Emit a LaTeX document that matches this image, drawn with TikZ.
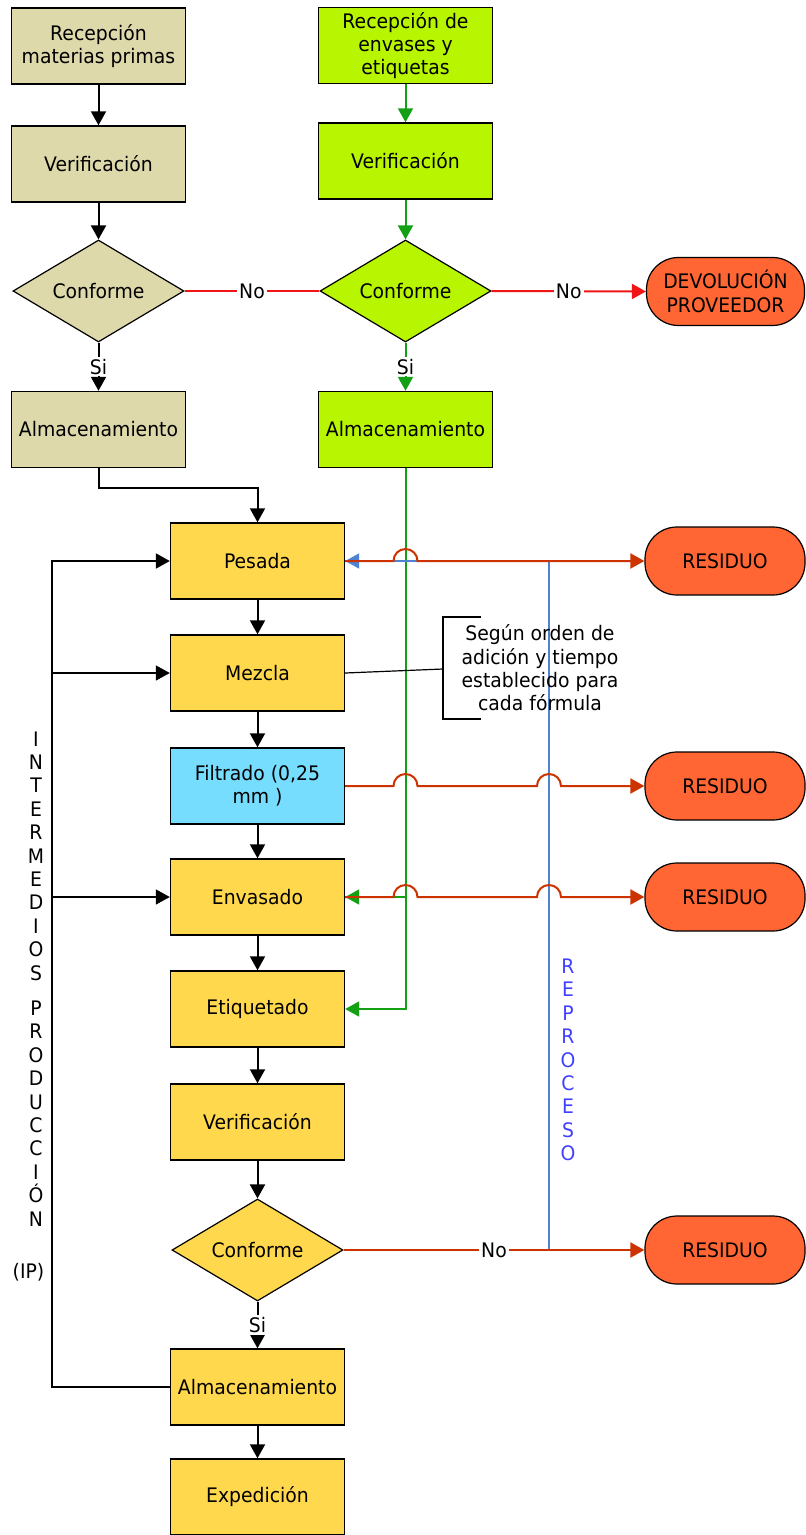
\documentclass[tikz,border=0pt]{standalone}
\usepackage{fontspec}
\setmainfont{DejaVu Sans}[FakeStretch=0.94]
\usetikzlibrary{shapes.geometric,arrows.meta,calc}
\definecolor{tan}{RGB}{221,217,170}
\definecolor{lime}{RGB}{184,245,0}
\definecolor{yel}{RGB}{255,216,77}
\definecolor{cyanbox}{RGB}{119,221,255}
\definecolor{orng}{RGB}{255,102,51}
\definecolor{grn}{RGB}{20,160,20}
\definecolor{brightred}{RGB}{240,20,20}
\definecolor{darkred}{RGB}{204,51,0}
\definecolor{blueline}{RGB}{80,130,210}
\definecolor{bluetext}{RGB}{64,64,255}
\begin{document}
\begin{tikzpicture}[x=0.5pt,y=-0.5pt,
  font=\fontsize{10}{11.7}\selectfont,
  box/.style={draw=black, line width=0.7pt, minimum width=87pt, minimum height=38pt, inner sep=1pt, align=center},
  dia/.style={diamond, draw=black, line width=0.6pt, minimum width=85.5pt, minimum height=51pt, inner sep=0pt, aspect=1.7},
  term/.style={draw=black, line width=0.6pt, fill=orng, rounded corners=16pt, minimum width=80pt, minimum height=34pt, inner sep=1pt, align=center},
  arr/.style={-{Triangle[length=7pt,width=7.5pt]}},
  conn/.style={line width=1pt},
  lbl/.style={fill=white, inner sep=1pt}
]
\useasboundingbox (0,0) rectangle (806,1535);

% left column
\node[box, fill=tan] (rmp) at (98.5,46) {Recepción\\materias primas};
\node[box, fill=tan] (ver1) at (98.5,164) {Verificación};
\node[dia, fill=tan] (conf1) at (98.5,291) {Conforme};
\node[box, fill=tan] (alm1) at (98.5,429.5) {Almacenamiento};

% middle column
\node[box, fill=lime] (rev) at (405.5,45.5) {Recepción de\\envases y\\etiquetas};
\node[box, fill=lime] (ver2) at (405.5,161) {Verificación};
\node[dia, fill=lime] (conf2) at (405.5,291) {Conforme};
\node[box, fill=lime] (alm2) at (405.5,429.5) {Almacenamiento};
\node[term, minimum width=79pt] (dev) at (725.5,291.5) {DEVOLUCIÓN\\PROVEEDOR};

% main column
\node[box, fill=yel] (pes) at (257.5,561) {Pesada};
\node[box, fill=yel] (mez) at (257.5,673) {Mezcla};
\node[box, fill=cyanbox] (fil) at (257.5,786) {Filtrado (0,25\\mm )};
\node[box, fill=yel] (env) at (257.5,897) {Envasado};
\node[box, fill=yel] (eti) at (257.5,1009) {Etiquetado};
\node[box, fill=yel] (ver3) at (257.5,1122) {Verificación};
\node[dia, fill=yel] (conf3) at (257.5,1250) {Conforme};
\node[box, fill=yel] (alm3) at (257.5,1387) {Almacenamiento};
\node[box, fill=yel] (exp) at (257.5,1497) {Expedición};

% residue terminals
\node[term] (r1) at (725,561) {RESIDUO};
\node[term] (r2) at (725,786) {RESIDUO};
\node[term] (r3) at (725,897) {RESIDUO};
\node[term] (r4) at (725,1250) {RESIDUO};

% guide coordinates
\coordinate (gx) at (405.5,0);
\coordinate (bx) at (549,0);
\coordinate (ipx) at (52,0);

% left column connectors
\draw[conn, arr] (rmp) -- (ver1);
\draw[conn, arr] (ver1) -- (conf1);
\draw[conn, arr] (conf1.south) -- node[lbl] {Si} (alm1.north);
\draw[conn, arr] (alm1.south) -- ++(0,20) -| (pes.north);

% middle column connectors
\draw[conn, grn, arr] (rev) -- (ver2);
\draw[conn, grn, arr] (ver2) -- (conf2);
\draw[conn, grn, arr] (conf2.south) -- node[lbl, text=black] {Si} (alm2.north);
\draw[conn, brightred] (conf1.east) -- node[lbl, text=black] {No} (conf2.west);
\draw[conn, brightred, arr] (conf2.east) -- node[lbl, text=black] {No} (dev.west);

% green supply line
\draw[conn, grn, arr] (alm2.south) -- (eti.east -| gx) -- (eti.east);
\draw[conn, grn, arr] (env.east -| gx) -- (env.east);

% main column connectors
\draw[conn, arr] (pes) -- (mez);
\draw[conn, arr] (mez) -- (fil);
\draw[conn, arr] (fil) -- (env);
\draw[conn, arr] (env) -- (eti);
\draw[conn, arr] (eti) -- (ver3);
\draw[conn, arr] (ver3) -- (conf3);
\draw[conn, arr] (conf3.south) -- node[lbl] {Si} (alm3.north);
\draw[conn, arr] (alm3) -- (exp);

% intermediate production loop
\draw[conn, arr] (alm3.west) -- (alm3.west -| ipx) -- (pes.west -| ipx) -- (pes.west);
\draw[line width=0.7pt, arr] (mez.west -| ipx) -- (mez.west);
\draw[line width=0.7pt, arr] (env.west -| ipx) -- (env.west);

% reprocess blue line
\draw[conn, blueline, arr] (conf3.east) -- (conf3.east -| bx) -- (pes.east -| bx) -- (pes.east);

% residue red lines with hops
\draw[conn, darkred, arr] (pes.east) -- ([xshift=-6pt]pes.east -| gx)
  arc[start angle=180, end angle=0, radius=6pt] -- (r1.west);
\draw[conn, darkred, arr] (fil.east) -- ([xshift=-6pt]fil.east -| gx)
  arc[start angle=180, end angle=0, radius=6pt] -- ([xshift=-6pt]fil.east -| bx)
  arc[start angle=180, end angle=0, radius=6pt] -- (r2.west);
\draw[conn, darkred, arr] (env.east) -- ([xshift=-6pt]env.east -| gx)
  arc[start angle=180, end angle=0, radius=6pt] -- ([xshift=-6pt]env.east -| bx)
  arc[start angle=180, end angle=0, radius=6pt] -- (r3.west);
\draw[conn, darkred, arr] (conf3.east) -- node[lbl, text=black] {No} (r4.west);

% callout
\node[align=center] (note) at (540,668) {Según orden de\\adición y tiempo\\establecido para\\cada fórmula};
\coordinate (nb) at (443,669);
\draw[line width=0.6pt] (mez.east) -- (nb);
\draw[line width=0.6pt] (481,617) -- (443,617) -- (443,719) -- (481,719);

% vertical texts
\node[text=bluetext, align=center, inner sep=0pt] (repro) at (568,1060) {R\\E\\P\\R\\O\\C\\E\\S\\O};
\node[align=center, inner sep=0pt] (inter) at (36,856) {I\\N\\T\\E\\R\\M\\E\\D\\I\\O\\S};
\node[align=center, inner sep=0pt] (prod) at (36,1113.5) {P\\R\\O\\D\\U\\C\\C\\I\\Ó\\N};
\node (ip) at (28.5,1272) {(IP)};
\end{tikzpicture}
\end{document}
